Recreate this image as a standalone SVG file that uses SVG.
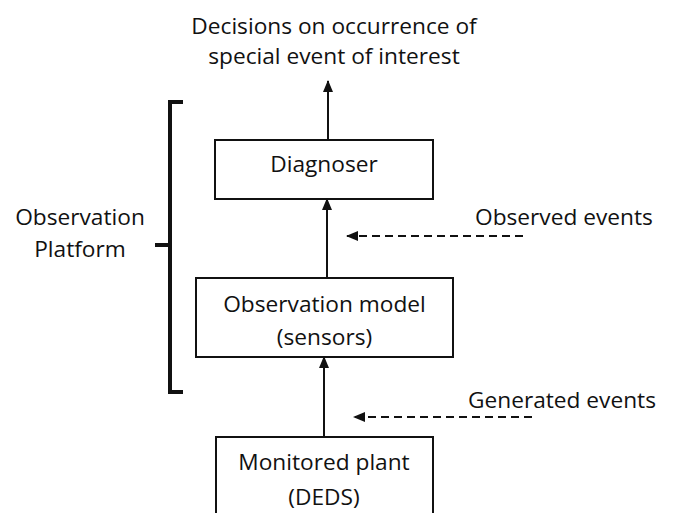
<svg xmlns="http://www.w3.org/2000/svg" width="673" height="513" viewBox="0 0 673 513">
<style>
text{font-family:"Open Sans","Noto Sans",sans-serif;font-size:22.7px;fill:#111}
.box{fill:#fff;stroke:#111;stroke-width:2}
.ln{stroke:#111;stroke-width:2;fill:none}
.dash{stroke:#111;stroke-width:2;fill:none;stroke-dasharray:8 5}
.br{stroke:#111;stroke-width:4;fill:none}
.m{text-anchor:middle}
</style>
<defs>
<marker id="ah" viewBox="0 0 12 10" refX="11" refY="5" markerWidth="12" markerHeight="10" markerUnits="userSpaceOnUse" orient="auto">
<path d="M0,0 L12,5 L0,10 Z" fill="#111"/>
</marker>
</defs>
<rect width="673" height="513" fill="#fff"/>
<g id="title">
<text class="m" x="334" y="34">Decisions on occurrence of</text>
<text class="m" x="334" y="64">special event of interest</text>
</g>
<g id="platform">
<path class="br" d="M183,102 H170 V392 H183 M170,245 H155"/>
<text class="m" x="80" y="225">Observation</text>
<text class="m" x="80" y="257">Platform</text>
</g>
<g id="diagnoser">
<rect class="box" x="215" y="140" width="218" height="59"/>
<text class="m" x="324" y="172">Diagnoser</text>
</g>
<g id="observation-model">
<rect class="box" x="196" y="278" width="257" height="79"/>
<text class="m" x="324.5" y="312">Observation model</text>
<text class="m" x="324.5" y="345">(sensors)</text>
</g>
<g id="monitored-plant">
<rect class="box" x="216" y="437" width="217" height="90"/>
<text class="m" x="324" y="470">Monitored plant</text>
<text class="m" x="324" y="505">(DEDS)</text>
</g>
<g id="connectors">
<line class="ln" x1="328" y1="140" x2="328" y2="81" marker-end="url(#ah)"/>
<line class="ln" x1="327" y1="278" x2="327" y2="199" marker-end="url(#ah)"/>
<line class="ln" x1="324" y1="437" x2="324" y2="357" marker-end="url(#ah)"/>
<line class="dash" x1="523" y1="236" x2="347" y2="236" marker-end="url(#ah)"/>
<line class="dash" x1="532" y1="417" x2="354" y2="417" marker-end="url(#ah)"/>
</g>
<g id="labels">
<text x="475" y="225">Observed events</text>
<text x="468" y="408">Generated events</text>
</g>
</svg>
